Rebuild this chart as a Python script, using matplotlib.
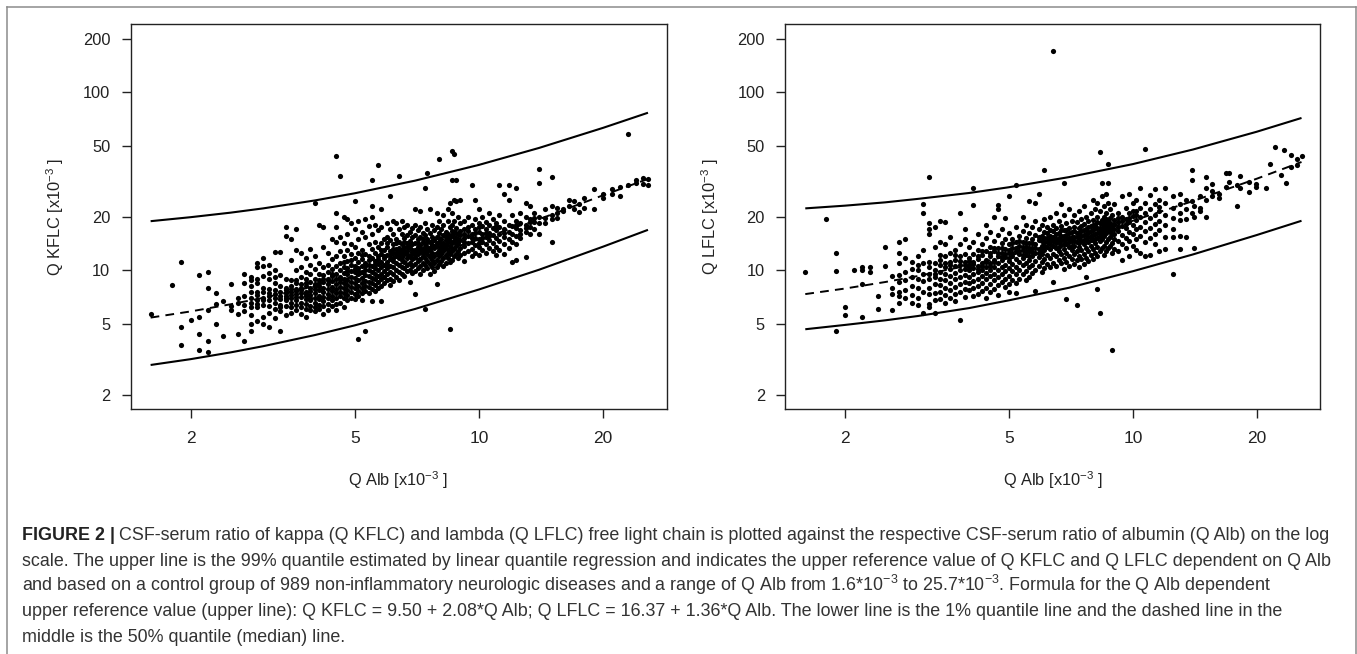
import matplotlib
matplotlib.use('Agg')
import matplotlib.pyplot as plt
from matplotlib.lines import Line2D
from matplotlib.ticker import NullLocator, FixedLocator, FixedFormatter

plt.rcParams['font.family'] = ['Liberation Sans', 'DejaVu Sans']
plt.rcParams['mathtext.fontset'] = 'custom'
plt.rcParams['mathtext.rm'] = 'Liberation Sans'
plt.rcParams['mathtext.it'] = 'Liberation Sans:italic'
plt.rcParams['mathtext.bf'] = 'Liberation Sans:bold'

# ---------------- data ----------------
x_ticks = [2, 5, 10, 20]
y_ticks = [2, 5, 10, 20, 50, 100, 200]

# quantile lines, sampled at these Q Alb values
line_alb = [1.6, 2, 2.5, 3, 4, 5, 7, 10, 14, 20, 25.7]
kappa_q99 = [18.9, 19.9, 21.1, 22.3, 24.7, 27.1, 31.9, 39.1, 48.7, 63.1, 76.7]
kappa_q50 = [5.44, 5.89, 6.46, 7.02, 8.14, 9.27, 11.5, 14.9, 19.4, 26.4, 32.6]
kappa_q01 = [2.95, 3.18, 3.47, 3.76, 4.34, 4.92, 6.08, 7.82, 10.1, 13.6, 16.9]
lambda_q99 = [22.3, 23.1, 24.1, 25.2, 27.2, 29.3, 33.4, 39.5, 47.7, 60.0, 71.7]
lambda_q50 = [7.37, 7.92, 8.61, 9.30, 10.7, 12.1, 14.8, 19.0, 24.5, 32.7, 40.6]
lambda_q01 = [4.68, 4.95, 5.25, 5.55, 6.15, 6.8, 8.0, 9.9, 12.3, 15.8, 19.0]

# scatter points: Q Alb column values and the Q FLC values in each column
kappa_alb = [1.6, 1.8, 1.9, 2.0, 2.1, 2.2, 2.3, 2.4, 2.5, 2.6, 2.7, 2.8, 2.9, 3.0,
             3.1, 3.2, 3.3, 3.4, 3.5, 3.6, 3.7, 3.8, 3.9, 4.0, 4.1, 4.2, 4.3, 4.4,
             4.5, 4.6, 4.7, 4.8, 4.9, 5.0, 5.1, 5.2, 5.3, 5.4, 5.5, 5.6, 5.7, 5.8,
             5.9, 6.0, 6.1, 6.2, 6.3, 6.4, 6.5, 6.6, 6.7, 6.8, 6.9, 7.0, 7.1, 7.2,
             7.3, 7.4, 7.5, 7.6, 7.7, 7.8, 7.9, 8.0, 8.1, 8.2, 8.3, 8.4, 8.5, 8.6,
             8.7, 8.8, 8.9, 9.0, 9.2, 9.4, 9.6, 9.8, 10.0, 10.2, 10.4, 10.6, 10.8,
             11.0, 11.2, 11.5, 11.8, 12.0, 12.3, 12.6, 13.0, 13.3, 13.6, 14.0, 14.5,
             15.0, 15.5, 16.0, 16.5, 17.0, 17.5, 18.0, 19.0, 20.0, 21.0, 22.0, 23.0,
             24.0, 25.0, 25.7]
kappa_flc = [
    [5.7], [8.3], [11.2, 4.8, 3.8], [5.3], [9.4, 4.4, 3.6, 5.5],
    [9.8, 8.0, 4.0, 3.5, 6.0], [7.5, 5.0, 6.5], [4.3, 6.7], [8.4, 6.0, 6.3],
    [5.7, 4.4, 6.6, 7.0], [9.5, 8.5, 4.0, 5.9, 6.4, 7.2],
    [9.2, 8.2, 7.6, 7.0, 6.2, 5.6, 5.0, 4.6, 8.8, 6.6],
    [11.0, 10.5, 9.0, 8.5, 7.6, 6.8, 6.2, 5.2, 7.3, 6.5],
    [11.8, 10.6, 9.3, 8.0, 7.0, 6.4, 5.5, 7.6, 6.8, 5.0],
    [10.7, 9.7, 8.9, 7.2, 6.8, 6.3, 5.8, 4.8, 7.5, 7.9],
    [12.7, 10.0, 8.5, 7.4, 7.0, 6.6, 6.1, 5.4, 7.8, 9.2],
    [12.7, 9.4, 8.2, 7.6, 7.2, 6.9, 6.4, 5.9, 4.6, 6.2],
    [17.5, 15.6, 9.0, 8.0, 7.5, 7.2, 6.8, 6.3, 5.6, 7.0, 7.8],
    [15.0, 11.5, 8.8, 8.2, 7.6, 7.3, 7.0, 6.6, 6.2, 5.8, 7.9],
    [17.0, 13.0, 10.0, 8.5, 7.9, 7.4, 7.1, 6.8, 6.4, 6.0, 7.7, 8.8],
    [12.5, 10.4, 9.2, 8.4, 7.8, 7.5, 7.1, 6.6, 6.2, 5.7, 8.0],
    [11.8, 9.8, 8.9, 8.2, 7.6, 7.2, 6.9, 6.5, 6.1, 5.5, 7.4, 8.5],
    [13.2, 10.8, 9.5, 8.6, 8.0, 7.7, 7.3, 6.8, 6.3, 6.0, 7.0],
    [24.0, 12.0, 10.2, 9.0, 8.4, 7.9, 7.5, 7.0, 6.6, 6.2, 5.9, 8.2],
    [18.0, 11.0, 9.6, 8.8, 8.2, 7.8, 7.2, 6.9, 6.4, 6.1, 8.5],
    [17.5, 13.5, 10.5, 9.4, 8.6, 8.0, 7.6, 7.1, 6.7, 6.3, 5.7, 9.0],
    [12.5, 10.8, 9.8, 9.0, 8.4, 7.9, 7.4, 7.0, 6.5, 6.0, 8.8],
    [15.0, 11.6, 10.2, 9.3, 8.7, 8.1, 7.7, 7.2, 6.8, 6.3, 9.6],
    [44.0, 21.0, 17.5, 14.5, 12.0, 10.6, 9.6, 9.0, 8.4, 7.9, 7.5, 7.0, 6.5, 6.0],
    [34.0, 15.5, 12.8, 11.0, 10.0, 9.2, 8.6, 8.1, 7.6, 7.2, 6.6, 8.9],
    [20.0, 14.2, 12.0, 10.5, 9.7, 9.0, 8.5, 8.0, 7.5, 7.0, 6.2, 11.2],
    [19.5, 16.0, 13.0, 11.3, 10.3, 9.5, 8.8, 8.3, 7.8, 7.3, 6.8, 9.9],
    [18.5, 14.0, 12.3, 10.8, 9.9, 9.2, 8.6, 8.1, 7.6, 7.0, 11.5],
    [24.5, 17.0, 13.5, 11.8, 10.6, 9.8, 9.1, 8.5, 8.0, 7.4, 6.9, 10.2],
    [4.1, 19.0, 15.0, 12.6, 11.2, 10.3, 9.5, 8.8, 8.2, 7.7, 7.2, 9.9],
    [16.5, 13.0, 11.6, 10.6, 9.8, 9.1, 8.5, 8.0, 7.5, 6.8, 12.2],
    [4.6, 19.5, 15.5, 12.4, 11.0, 10.1, 9.4, 8.7, 8.2, 7.7, 10.6],
    [17.8, 14.0, 12.0, 10.8, 10.0, 9.3, 8.6, 8.1, 7.5, 11.4],
    [32.0, 23.0, 20.0, 16.0, 13.2, 11.8, 10.6, 9.8, 9.1, 8.5, 7.9, 6.7],
    [18.0, 14.5, 12.6, 11.3, 10.3, 9.6, 8.9, 8.3, 7.7, 10.9],
    [39.0, 16.8, 13.6, 12.0, 10.9, 10.0, 9.3, 8.6, 8.0, 11.6],
    [22.0, 17.5, 14.2, 12.4, 11.2, 10.4, 9.6, 8.9, 8.2, 6.7, 13.0],
    [15.0, 13.0, 11.7, 10.7, 9.9, 9.2, 8.5, 12.0],
    [18.5, 15.5, 13.5, 12.2, 11.2, 10.3, 9.6, 8.8, 14.3, 10.8],
    [26.0, 17.0, 14.8, 12.8, 11.6, 10.6, 9.8, 9.0, 8.3, 12.2],
    [19.0, 16.0, 14.0, 12.5, 11.3, 10.4, 9.5, 8.7, 13.2, 11.8],
    [18.5, 15.0, 13.2, 12.0, 11.0, 10.1, 9.2, 14.2, 12.6],
    [34.0, 17.0, 14.5, 12.9, 11.7, 10.7, 9.8, 8.8, 13.4, 12.2],
    [19.0, 16.0, 14.0, 12.6, 11.4, 10.5, 9.6, 13.0, 11.9],
    [17.5, 15.2, 13.6, 12.3, 11.2, 10.3, 9.3, 14.4, 12.8],
    [18.0, 15.8, 14.2, 12.9, 11.8, 10.8, 9.9, 13.5, 12.4],
    [16.5, 14.7, 13.3, 12.1, 11.0, 10.0, 8.6, 13.9],
    [17.2, 15.4, 14.0, 12.7, 11.6, 10.6, 9.7, 13.1, 12.3],
    [22.0, 18.0, 15.8, 14.3, 13.0, 11.9, 10.9, 9.9, 7.4, 12.5],
    [16.8, 15.0, 13.6, 12.4, 11.3, 10.3, 14.2, 12.9],
    [21.5, 17.5, 15.4, 13.9, 12.7, 11.6, 10.6, 9.5, 13.3],
    [16.2, 14.5, 13.2, 12.1, 11.0, 10.0, 15.0, 12.6],
    [29.0, 18.5, 15.8, 14.1, 12.9, 11.8, 10.8, 13.6, 6.1],
    [35.0, 17.0, 15.1, 13.6, 12.4, 11.3, 10.3, 14.5, 12.9],
    [22.0, 16.2, 14.4, 13.0, 11.9, 10.9, 9.6, 13.4],
    [18.0, 15.5, 13.9, 12.6, 11.5, 10.4, 14.7, 12.2],
    [16.8, 14.8, 13.3, 12.1, 11.0, 9.9, 13.8],
    [21.0, 17.5, 15.4, 13.8, 12.6, 11.4, 10.5, 8.4, 14.3],
    [42.0, 19.0, 16.2, 14.5, 13.1, 12.0, 10.9, 15.3, 12.6],
    [17.0, 15.0, 13.6, 12.4, 11.3, 14.1, 12.9],
    [20.5, 18.0, 15.8, 14.2, 12.9, 11.8, 10.6, 13.5],
    [16.5, 14.8, 13.4, 12.2, 11.0, 15.4, 13.9],
    [22.0, 19.0, 16.0, 14.4, 13.0, 11.7, 15.0, 12.5],
    [4.7, 24.0, 17.5, 15.4, 13.8, 12.4, 11.2, 14.7],
    [47.0, 32.0, 21.0, 18.0, 15.8, 14.2, 12.8, 11.5, 16.7, 13.3],
    [45.0, 25.0, 19.0, 16.5, 14.7, 13.2, 12.0, 15.5],
    [32.0, 24.5, 17.2, 15.2, 13.7, 12.4, 14.3, 16.2],
    [20.0, 16.0, 14.2, 12.9, 11.8, 15.0],
    [25.0, 18.5, 16.6, 14.8, 13.4, 12.2, 15.8],
    [19.0, 17.0, 15.2, 13.8, 12.5, 11.3, 16.0, 14.5],
    [20.0, 17.5, 15.6, 14.2, 12.9, 16.7],
    [30.0, 18.0, 16.0, 14.5, 13.2, 12.0, 15.2],
    [25.0, 19.5, 17.0, 15.3, 13.9, 12.6, 16.2],
    [22.0, 18.5, 16.5, 15.0, 13.5, 12.2, 17.5, 14.2],
    [20.0, 17.8, 16.0, 14.5, 13.0, 15.3],
    [18.8, 17.0, 15.5, 14.0, 12.5, 16.2],
    [21.0, 18.0, 16.3, 14.8, 13.4, 15.6],
    [19.5, 17.4, 15.8, 14.3, 12.8],
    [18.5, 16.8, 15.2, 13.6, 12.2, 17.8],
    [30.0, 20.5, 17.5, 16.0, 14.6, 13.0],
    [27.0, 19.0, 17.0, 15.4, 14.0, 12.4, 16.2],
    [30.0, 25.0, 18.0, 16.5, 15.0, 13.4],
    [20.5, 17.8, 16.0, 14.5, 11.1],
    [29.0, 19.0, 17.2, 15.6, 14.0, 11.5, 18.0],
    [21.0, 18.5, 16.8, 15.2, 16.0],
    [24.0, 20.0, 18.0, 16.4, 11.9, 17.2],
    [23.0, 19.5, 17.5, 16.0, 18.6],
    [21.0, 18.8, 17.0, 19.8],
    [37.0, 31.0, 20.0, 16.0, 18.5],
    [22.0, 19.8, 18.5],
    [33.4, 14.4, 23.0, 20.5, 19.5],
    [22.5, 21.0, 19.8],
    [22.0, 21.5], [25.0, 23.0], [24.5, 22.0], [21.4, 23.5], [25.5, 22.5],
    [28.7, 22.2], [27.0, 25.5], [28.5, 27.0], [29.5, 26.0], [58.5, 30.0],
    [32.0, 31.0], [30.5, 33.0], [30.0, 32.5],
]

lambda_alb = [1.6, 1.8, 1.9, 2.0, 2.1, 2.2, 2.3, 2.4, 2.5, 2.6, 2.7, 2.8, 2.9, 3.0,
              3.1, 3.2, 3.3, 3.4, 3.5, 3.6, 3.7, 3.8, 3.9, 4.0, 4.1, 4.2, 4.3, 4.4,
              4.5, 4.6, 4.7, 4.8, 4.9, 5.0, 5.1, 5.2, 5.3, 5.4, 5.5, 5.6, 5.7, 5.8,
              5.9, 6.0, 6.1, 6.2, 6.3, 6.4, 6.5, 6.6, 6.7, 6.8, 6.9, 7.0, 7.1, 7.2,
              7.3, 7.4, 7.5, 7.6, 7.7, 7.8, 7.9, 8.0, 8.1, 8.2, 8.3, 8.4, 8.5, 8.6,
              8.7, 8.8, 8.9, 9.0, 9.2, 9.4, 9.6, 9.8, 10.0, 10.2, 10.4, 10.7, 11.0,
              11.3, 11.6, 12.0, 12.5, 13.0, 13.5, 13.9, 14.1, 14.6, 15.1, 15.6, 16.2,
              16.8, 17.1, 17.9, 18.2, 19.2, 19.9, 21.1, 21.6, 22.1, 22.9, 23.3, 23.5,
              24.2, 25.0, 25.7]
lambda_flc = [
    [9.8], [19.4], [12.5, 9.9, 4.6], [6.2, 5.6], [10.1], [10.4, 8.4, 5.5, 10.0],
    [10.5, 9.8], [7.2, 6.1], [13.5, 10.6], [9.3, 8.0, 7.4, 6.0],
    [14.5, 12.5, 11.0, 8.6, 7.6, 7.2, 6.6, 9.4],
    [15.0, 11.8, 9.8, 8.8, 7.8, 7.0],
    [11.2, 9.2, 8.2, 7.3, 6.6, 10.2],
    [12.0, 10.0, 9.0, 8.0, 7.0, 6.4, 10.8],
    [23.5, 21.0, 13.0, 11.0, 9.5, 8.7, 7.6, 5.8],
    [33.5, 18.5, 17.0, 16.0, 10.5, 9.6, 9.0, 8.0, 7.4, 6.5, 6.2, 11.2],
    [17.5, 13.5, 11.0, 10.0, 9.2, 8.4, 7.5, 6.8, 5.8, 9.6],
    [19.0, 14.5, 12.2, 10.8, 9.8, 9.0, 8.3, 7.6, 6.9, 11.5],
    [18.8, 14.0, 12.0, 10.5, 9.6, 8.8, 8.0, 7.3, 6.6, 11.0],
    [15.5, 12.6, 11.2, 10.2, 9.3, 8.5, 7.8, 7.0, 10.7],
    [13.0, 11.5, 10.6, 9.7, 8.9, 8.1, 7.4, 6.7, 12.2],
    [21.0, 14.0, 12.0, 10.8, 10.0, 9.2, 8.4, 7.6, 5.3, 11.3],
    [17.0, 15.0, 12.4, 11.2, 10.2, 9.4, 8.6, 7.9, 7.1, 10.7],
    [13.5, 11.8, 10.8, 10.0, 9.2, 8.5, 7.8, 11.3, 10.4],
    [29.0, 23.2, 14.5, 12.4, 11.2, 10.3, 9.5, 8.7, 8.0, 7.2, 10.9],
    [16.0, 13.0, 11.6, 10.6, 9.8, 9.0, 8.2, 7.4, 12.0, 10.2],
    [14.0, 12.2, 11.0, 10.1, 9.3, 8.5, 7.7, 12.8, 10.6],
    [18.0, 15.2, 12.8, 11.5, 10.5, 9.7, 8.9, 8.0, 7.0, 11.1],
    [16.5, 13.5, 12.0, 11.0, 10.1, 9.3, 8.4, 7.6, 12.5, 10.6],
    [20.0, 14.6, 12.8, 11.5, 10.5, 9.6, 8.8, 7.9, 13.4, 11.1],
    [23.2, 22.2, 15.8, 13.4, 12.0, 11.0, 10.1, 9.2, 8.3, 7.3, 12.6],
    [17.0, 14.2, 12.6, 11.4, 10.4, 9.5, 8.6, 13.3, 11.9],
    [19.8, 15.0, 13.2, 11.9, 10.8, 9.9, 9.0, 8.1, 12.4],
    [26.0, 16.2, 14.0, 12.5, 11.3, 10.3, 9.3, 8.4, 7.6, 13.0, 11.8],
    [15.0, 13.3, 12.0, 10.9, 9.9, 8.8, 14.2, 12.5],
    [30.0, 17.5, 14.4, 12.8, 11.6, 10.5, 9.5, 8.5, 7.5, 13.4],
    [15.6, 13.8, 12.4, 11.2, 10.1, 9.0, 14.6, 12.9],
    [20.0, 16.6, 14.4, 13.0, 11.8, 10.7, 9.6, 13.6, 12.2],
    [18.0, 15.2, 13.5, 12.2, 11.0, 9.9, 8.8, 14.2, 12.7],
    [24.6, 16.2, 14.2, 12.8, 11.5, 10.4, 9.2, 13.4, 12.0],
    [17.5, 15.0, 13.4, 12.0, 10.8, 9.7, 14.3, 12.7],
    [24.0, 19.0, 15.8, 14.0, 12.6, 11.3, 10.1, 7.7, 13.3],
    [27.0, 17.0, 14.8, 13.2, 11.9, 10.6, 15.5, 12.5],
    [18.0, 15.6, 13.8, 12.4, 11.1, 9.8, 14.6, 13.1],
    [36.5, 19.5, 16.5, 14.5, 13.0, 11.6, 10.3, 15.3, 13.7],
    [17.5, 15.2, 13.6, 12.2, 10.9, 14.4, 16.2],
    [20.0, 16.8, 14.8, 13.2, 11.8, 10.4, 15.6, 14.0],
    [170.0, 18.0, 15.5, 13.8, 12.4, 11.0, 8.6, 14.6, 16.6],
    [21.0, 17.2, 15.0, 13.4, 12.0, 10.6, 14.2, 16.0],
    [19.0, 16.2, 14.4, 12.9, 11.5, 15.2, 13.6],
    [23.5, 17.8, 15.6, 13.9, 12.4, 11.0, 14.8, 16.8],
    [31.0, 20.5, 16.8, 14.8, 13.2, 11.8, 10.2, 15.6, 14.1],
    [18.4, 15.8, 14.1, 12.6, 11.2, 6.9, 16.9, 15.0],
    [22.0, 17.4, 15.2, 13.6, 12.1, 10.6, 14.4, 16.2],
    [19.0, 16.4, 14.6, 13.0, 11.6, 15.5, 13.8],
    [20.5, 17.6, 15.4, 13.8, 12.3, 10.9, 16.6, 14.6],
    [6.4, 18.6, 16.2, 14.4, 12.8, 11.4, 15.4],
    [21.5, 17.2, 15.2, 13.5, 12.0, 10.4, 16.2, 14.3],
    [19.5, 16.6, 14.7, 13.1, 11.6, 17.8, 15.6],
    [23.0, 18.2, 15.8, 14.0, 12.4, 10.9, 16.9, 14.9],
    [9.2, 20.0, 17.0, 15.1, 13.4, 11.8, 16.0],
    [19.0, 16.4, 14.5, 12.9, 11.3, 17.6, 15.5],
    [21.0, 17.8, 15.6, 13.8, 12.2, 16.7, 14.8],
    [25.0, 19.2, 16.8, 14.9, 13.2, 11.6, 18.0, 15.8],
    [22.0, 18.0, 16.0, 14.2, 12.6, 17.2, 15.1],
    [7.9, 24.0, 20.0, 17.2, 15.3, 13.6, 12.0, 18.6, 16.3],
    [46.0, 5.8, 21.5, 18.4, 16.4, 14.6, 12.9, 17.4, 15.6],
    [31.0, 26.0, 19.2, 17.0, 15.1, 13.4, 18.2, 16.0],
    [23.0, 20.0, 17.6, 15.6, 13.8, 12.2, 18.8, 16.6],
    [27.0, 21.0, 18.2, 16.2, 14.4, 12.8, 17.2, 19.5],
    [39.5, 31.0, 24.0, 19.0, 16.8, 15.0, 13.3, 17.9],
    [22.0, 19.6, 17.4, 15.5, 13.8, 18.5, 16.4],
    [3.6, 20.5, 18.0, 16.0, 14.3, 12.5, 17.0],
    [23.5, 19.2, 17.0, 15.0, 13.2, 18.2, 16.1],
    [21.0, 18.6, 16.6, 14.7, 12.9, 19.6, 17.6],
    [26.0, 20.0, 17.8, 15.8, 14.0, 11.5, 18.9],
    [22.5, 19.4, 17.2, 15.2, 13.4, 18.2],
    [27.0, 21.0, 18.6, 16.5, 14.6, 12.0, 19.8],
    [24.0, 20.2, 18.0, 16.0, 13.8, 21.5],
    [25.0, 21.5, 19.2, 17.0, 15.0, 13.0, 20.4],
    [29.0, 22.5, 20.0, 17.6, 15.6, 12.5],
    [48.0, 24.0, 21.0, 18.8, 16.6, 14.4, 12.0],
    [26.5, 22.0, 19.6, 17.4, 15.2, 12.2],
    [28.5, 23.5, 20.5, 18.2, 16.0, 14.0],
    [25.0, 21.5, 19.0, 16.8, 12.8, 22.6],
    [29.0, 24.0, 20.5, 18.0, 15.5, 13.2],
    [9.6, 26.0, 22.5, 19.8, 17.0, 15.4],
    [27.0, 23.5, 21.0, 15.6, 13.2, 19.2],
    [25.0, 22.0, 19.5, 15.5],
    [36.5, 32.0, 24.5, 21.0],
    [13.3, 23.0, 20.0],
    [26.0, 22.5, 21.5],
    [33.6, 20.0, 29.0, 25.0],
    [28.0, 26.0, 30.5],
    [27.0, 25.5],
    [35.0, 29.5], [35.0, 31.5], [23.0, 30.0], [34.0, 29.0], [27.5, 31.5],
    [29.5, 30.5], [29.0], [39.5], [49.0], [34.3], [47.5], [31.0],
    [44.6, 38.0], [39.0, 42.0], [44.0],
]

caption_lines = [
    "CSF-serum ratio of kappa (Q KFLC) and lambda (Q LFLC) free light chain is plotted against the respective CSF-serum ratio of albumin (Q Alb) on the log",
    "scale. The upper line is the 99% quantile estimated by linear quantile regression and indicates the upper reference value of Q KFLC and Q LFLC dependent on Q Alb",
    r"and based on a control group of 989 non-inflammatory neurologic diseases and a range of Q Alb from 1.6*10$^{-3}$ to 25.7*10$^{-3}$. Formula for the Q Alb dependent",
    "upper reference value (upper line): Q KFLC = 9.50 + 2.08*Q Alb; Q LFLC = 16.37 + 1.36*Q Alb. The lower line is the 1% quantile line and the dashed line in the",
    "middle is the 50% quantile (median) line.",
]

# ---------------- figure ----------------
W, H = 1357, 654
fig = plt.figure(figsize=(W / 100, H / 100), dpi=100)
fig.patch.set_facecolor('white')


def expand(cols_x, cols_y):
    xs, ys = [], []
    for xv, yl in zip(cols_x, cols_y):
        xs += [xv] * len(yl)
        ys += list(yl)
    return xs, ys


def panel(left_px, right_px, alb, flc, q99, q50, q01, ylabel):
    ax = fig.add_axes([left_px / W, 1 - 409.3 / H, (right_px - left_px) / W, (409.3 - 24.3) / H])
    ax.set_xscale('log')
    ax.set_yscale('log')
    ax.set_xlim(1.43, 28.5)
    ax.set_ylim(1.664, 240.4)
    xs, ys = expand(alb, flc)
    ax.scatter(xs, ys, s=14, c='black', linewidths=0, zorder=3)
    ax.plot(line_alb, q99, color='black', lw=1.5, zorder=2, solid_capstyle='butt')
    ax.plot(line_alb, q01, color='black', lw=1.5, zorder=2, solid_capstyle='butt')
    ax.plot(line_alb, q50, color='black', lw=1.4, ls=(0, (4.5, 3.2)), zorder=2)
    ax.xaxis.set_major_locator(FixedLocator(x_ticks))
    ax.xaxis.set_major_formatter(FixedFormatter([str(v) for v in x_ticks]))
    ax.yaxis.set_major_locator(FixedLocator(y_ticks))
    ax.yaxis.set_major_formatter(FixedFormatter([str(v) for v in y_ticks]))
    ax.xaxis.set_minor_locator(NullLocator())
    ax.yaxis.set_minor_locator(NullLocator())
    ax.tick_params(axis='both', direction='out', length=6.6, width=1.0, color='#222222')
    ax.tick_params(axis='x', labelsize=12.5, pad=9, labelcolor='#222222')
    ax.tick_params(axis='y', labelsize=11.8, pad=8, labelcolor='#222222')
    for sp in ax.spines.values():
        sp.set_linewidth(1.0)
        sp.set_color('#222222')
    cx = (left_px + right_px) / 2
    fig.text(cx / W, 1 - 480 / H, r'Q Alb [x10$^{-3}$ ]', ha='center', va='center',
             fontsize=11.8, color='#222222')
    fig.text((left_px - 75) / W, 1 - 216.5 / H, ylabel, rotation=90, ha='center',
             va='center', fontsize=11.8, color='#222222')
    return ax


panel(130.5, 666.5, kappa_alb, kappa_flc, kappa_q99, kappa_q50, kappa_q01,
      r'Q KFLC [x10$^{-3}$ ]')
panel(785.2, 1320.0, lambda_alb, lambda_flc, lambda_q99, lambda_q50, lambda_q01,
      r'Q LFLC [x10$^{-3}$ ]')

# outer frame (left, top, right)
frame_col = '#8c8c8c'
fig.add_artist(Line2D([7.3 / W, 7.3 / W], [0, 1 - 7.3 / H], transform=fig.transFigure,
                      color=frame_col, lw=1.1))
fig.add_artist(Line2D([7.3 / W, 1355.5 / W], [1 - 7.3 / H, 1 - 7.3 / H],
                      transform=fig.transFigure, color=frame_col, lw=1.1))
fig.add_artist(Line2D([1355.5 / W, 1355.5 / W], [0, 1 - 7.3 / H], transform=fig.transFigure,
                      color=frame_col, lw=1.1))

# caption
cap_col = '#333333'
renderer = fig.canvas.get_renderer()
probe = fig.text(22 / W, 0.5, caption_lines[1], fontsize=12, ha='left', va='baseline')
wpx = probe.get_window_extent(renderer=renderer).width
probe.remove()
cap_fs = 12 * (1333 - 22) / wpx

baselines = [540, 565.5, 591, 616.5, 642]
head = fig.text(22 / W, 1 - baselines[0] / H, 'FIGURE 2 |', fontsize=cap_fs,
                fontweight='bold', ha='left', va='baseline', color='#222222')
hw = head.get_window_extent(renderer=renderer)
fig.text((hw.x1 + 0.3 * cap_fs) / W, 1 - baselines[0] / H, caption_lines[0], fontsize=cap_fs,
         ha='left', va='baseline', color=cap_col)
for i in range(1, 5):
    fig.text(22 / W, 1 - baselines[i] / H, caption_lines[i], fontsize=cap_fs,
             ha='left', va='baseline', color=cap_col)

fig.savefig('out.png', dpi=100, facecolor='white')
